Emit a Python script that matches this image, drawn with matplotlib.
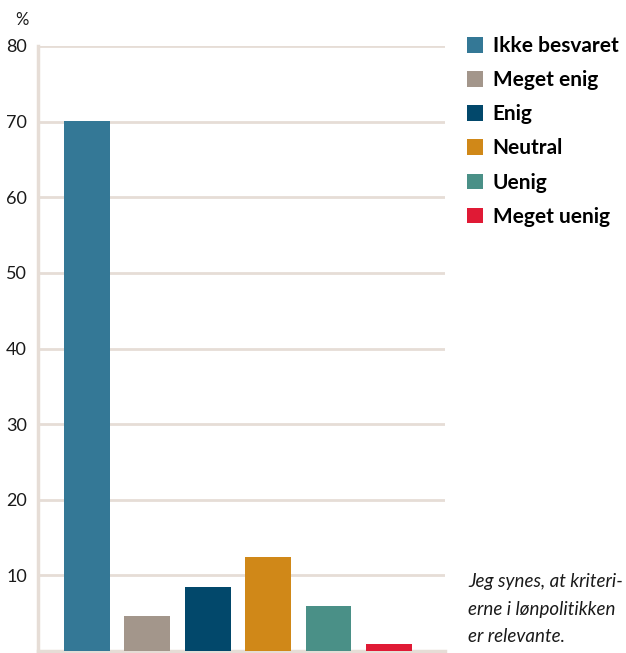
import matplotlib
matplotlib.use("Agg")
import matplotlib.pyplot as plt
from matplotlib.patches import Patch

categories = ["Ikke besvaret", "Meget enig", "Enig", "Neutral", "Uenig", "Meget uenig"]
values = [70.1, 4.6, 8.5, 12.4, 5.9, 0.9]
colors = ["#347896", "#a3968b", "#02486b", "#d08818", "#4a9087", "#e01a35"]
yticks = [10, 20, 30, 40, 50, 60, 70, 80]
caption = "Jeg synes, at kriteri-\nerne i lønpolitikken\ner relevante."

plt.rcParams['font.family'] = ['Lato', 'DejaVu Sans']

fig = plt.figure(figsize=(6.26, 6.53), dpi=100)
ax = fig.add_axes([38/626, 1-651/653, (445-38)/626, (651-46)/653])
x = list(range(len(categories)))
ax.bar(x, values, width=0.76, color=colors, zorder=3)
ax.set_xlim(-0.81, 5.93)
ax.set_ylim(0, 80)
ax.set_yticks(yticks)
ax.set_xticks([])
grid_c = "#e6ddd6"
ax.yaxis.grid(True, color=grid_c, linewidth=2, zorder=0)
for s in ["top", "right"]:
    ax.spines[s].set_visible(False)
for s in ["left", "bottom"]:
    ax.spines[s].set_color(grid_c)
    ax.spines[s].set_linewidth(2.5)
ax.tick_params(axis='y', length=0, pad=8, labelsize=13, labelcolor="#1a1a1a")
fig.text(22/626, 1-20/653, "%", fontsize=12, ha='center', va='center', color="#1a1a1a")

handles = [Patch(facecolor=c, edgecolor='none') for c in colors]
leg = fig.legend(handles, categories, loc='upper left', bbox_to_anchor=(467/626, 1-36/653),
                 frameon=False, prop={'weight': 'bold', 'size': 15},
                 handlelength=0.78, handleheight=0.78, handletextpad=0.45,
                 labelspacing=0.68, borderaxespad=0, borderpad=0)

fig.text(468/626, 1-609/653, caption, fontsize=13.5, style='italic', ha='left', va='center',
         linespacing=1.75, color="#1a1a1a")

fig.savefig("out.png", dpi=100)
